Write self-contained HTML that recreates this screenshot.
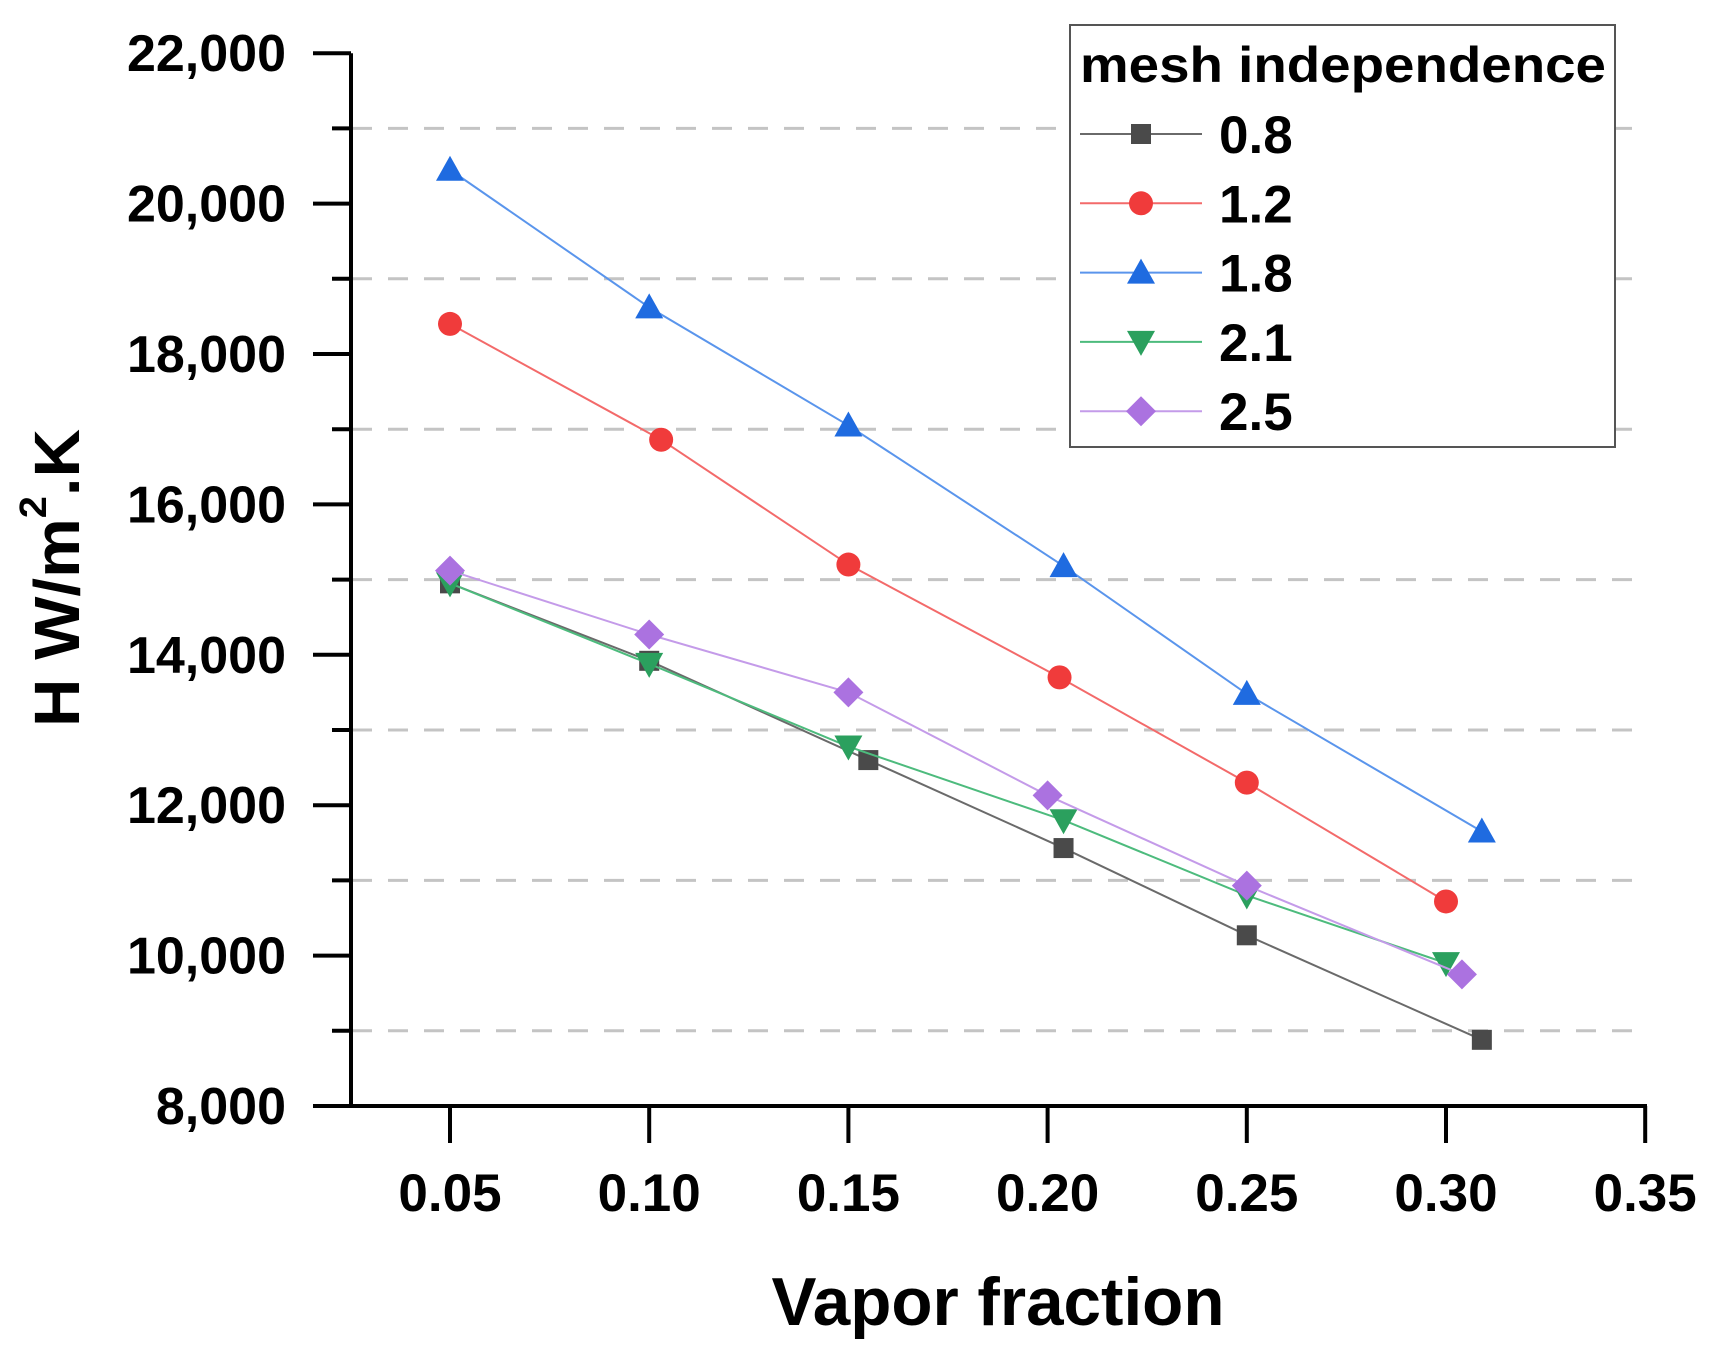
<!DOCTYPE html>
<html><head><meta charset="utf-8"><style>
html,body{margin:0;padding:0;background:#fff;}
svg{display:block;font-family:"Liberation Sans",Arial,sans-serif;font-weight:bold;}
</style></head><body>
<svg id="chart" width="1711" height="1361" viewBox="0 0 1711 1361">
<g id="grid"></g>
<g id="axes"></g>
<g id="series"></g>
<text x="62" y="578" transform="rotate(-90 62 578)" text-anchor="middle" dominant-baseline="middle" font-size="64" textLength="298" lengthAdjust="spacingAndGlyphs">H W/m<tspan font-size="38" dy="-26">2</tspan><tspan dy="26">.K</tspan></text>
<text x="998" y="1325" text-anchor="middle" font-size="68" textLength="453" lengthAdjust="spacingAndGlyphs">Vapor fraction</text>
<g id="legend">
<rect x="1070" y="25" width="545" height="422" fill="#fff" stroke="#555" stroke-width="2"/>
<text x="1080" y="82" font-size="50" textLength="526" lengthAdjust="spacingAndGlyphs">mesh independence</text>
</g>
</svg>
<script>
const xTicks=[0.05,0.10,0.15,0.20,0.25,0.30,0.35];
const xTickLabels=["0.05","0.10","0.15","0.20","0.25","0.30","0.35"];
const yTicks=[8000,10000,12000,14000,16000,18000,20000,22000];
const yTickLabels=["8,000","10,000","12,000","14,000","16,000","18,000","20,000","22,000"];
const gridValues=[9000,11000,13000,15000,17000,19000,21000];
const seriesNames=["0.8","1.2","1.8","2.1","2.5"];
const x08=[0.05,0.10,0.155,0.204,0.25,0.309];
const y08=[14950,13920,12600,11430,10270,8880];
const x12=[0.05,0.103,0.15,0.203,0.25,0.30];
const y12=[18400,16860,15200,13700,12300,10720];
const x18=[0.05,0.10,0.15,0.204,0.25,0.309];
const y18=[20450,18620,17050,15180,13480,11650];
const x21=[0.05,0.10,0.15,0.204,0.25,0.30];
const y21=[14950,13880,12780,11800,10800,9900];
const x25=[0.05,0.10,0.15,0.20,0.25,0.304];
const y25=[15120,14270,13500,12130,10930,9750];

const NS="http://www.w3.org/2000/svg";
function sx(v){return 450+(v-0.05)/0.05*199.2;}
function sy(v){return 1106-(v-8000)/1000*75.2;}
function mk(tag,attrs,parent){const e=document.createElementNS(NS,tag);for(const k in attrs)e.setAttribute(k,attrs[k]);parent.appendChild(e);return e;}
const grid=document.getElementById('grid'),axes=document.getElementById('axes'),ser=document.getElementById('series'),leg=document.getElementById('legend');
gridValues.forEach(v=>{const l=mk('line',{x1:352,x2:1645,y1:sy(v),y2:sy(v),stroke:'#c4c4c4','stroke-width':3,'stroke-dasharray':'20 16'},grid);

});
let a=mk('line',{x1:351,x2:351,y1:sy(22000),y2:1107,stroke:'#000','stroke-width':4},axes);


a=mk('line',{x1:313,x2:1647,y1:1106,y2:1106,stroke:'#000','stroke-width':4},axes);


yTicks.forEach((v,i)=>{mk('line',{x1:313,x2:351,y1:sy(v),y2:sy(v),stroke:'#000','stroke-width':4},axes);
const t=mk('text',{x:286,y:sy(v)+18,'text-anchor':'end','font-size':52},axes);t.textContent=yTickLabels[i];

});
gridValues.forEach(v=>{mk('line',{x1:332,x2:351,y1:sy(v),y2:sy(v),stroke:'#000','stroke-width':4},axes);});
xTicks.forEach((v,i)=>{mk('line',{x1:sx(v),x2:sx(v),y1:1106,y2:1143,stroke:'#000','stroke-width':4},axes);
const t=mk('text',{x:sx(v),y:1211,'text-anchor':'middle','font-size':53},axes);t.textContent=xTickLabels[i];

});
const colors=["#4a4a4a","#f03b3b","#1f6be0","#2ba05e","#ab72e0"];
const lineColors=["#6a6a6a","#f36a6a","#5a95ec","#4dbb7d","#c49be9"];
const shapes=["square","circle","up","down","diamond"];
const xs=[x08,x12,x18,x21,x25],ys=[y08,y12,y18,y21,y25];
function marker(shape,cx,cy,c,p){
 if(shape==='square')return mk('rect',{x:cx-10,y:cy-10,width:20,height:20,fill:c},p);
 if(shape==='circle')return mk('circle',{cx:cx,cy:cy,r:12,fill:c},p);
 if(shape==='up')return mk('polygon',{points:`${cx},${cy-14} ${cx+14},${cy+11} ${cx-14},${cy+11}`,fill:c},p);
 if(shape==='down')return mk('polygon',{points:`${cx},${cy+14} ${cx+14},${cy-11} ${cx-14},${cy-11}`,fill:c},p);
 return mk('polygon',{points:`${cx},${cy-15} ${cx+15},${cy} ${cx},${cy+15} ${cx-15},${cy}`,fill:c},p);
}
xs.forEach((xa,i)=>{
 const g=mk('g',{},ser);
 
 
 const pts=xa.map((x,j)=>sx(x)+','+sy(ys[i][j])).join(' ');
 mk('polyline',{points:pts,fill:'none',stroke:lineColors[i],'stroke-width':2},g);
 xa.forEach((x,j)=>{const m=marker(shapes[i],sx(x),sy(ys[i][j]),colors[i],g);
 
 });
 const ly=134+i*69.3;
 const lg=mk('g',{},leg);
 
 
 mk('line',{x1:1080,x2:1202,y1:ly,y2:ly,stroke:lineColors[i],'stroke-width':2},lg);
 marker(shapes[i],1141,ly,colors[i],lg);
 const t=mk('text',{x:1219,y:ly+19,'font-size':53},lg);t.textContent=seriesNames[i];
});
</script>
</body></html>
